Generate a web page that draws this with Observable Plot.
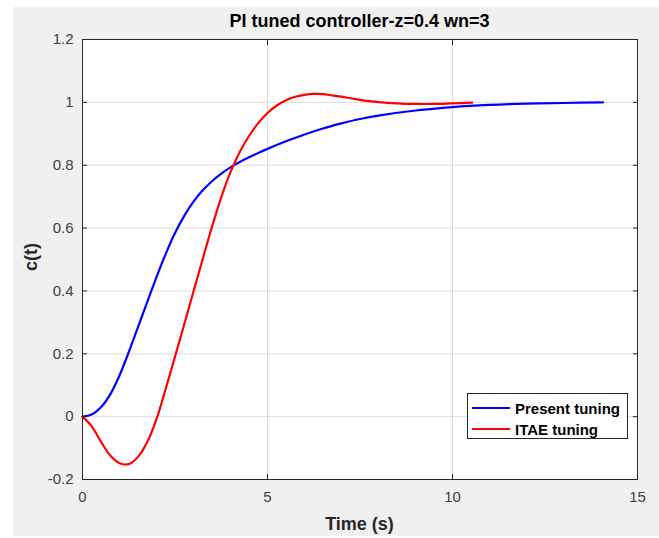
<!DOCTYPE html>
<html><head><meta charset="utf-8">
<script src="https://cdn.jsdelivr.net/npm/d3@7"></script>
<script src="https://cdn.jsdelivr.net/npm/@observablehq/plot@0.6"></script>
<style>
body{margin:0;background:#fff;font-family:"Liberation Sans",Arial,sans-serif}
#wrap{position:relative;width:659px;height:538px;background:#fff;overflow:hidden}
#bg{position:absolute;left:13px;top:7px;right:0;bottom:2px;background:#f0f0f0}
#chart{position:absolute;left:0;top:0}
#legend{position:absolute;left:467px;top:393px;width:159px;height:44px;background:#fff;border:1px solid #262626;box-sizing:content-box}
.row{position:absolute;left:0;height:20px;display:flex;align-items:center;font-weight:bold;font-size:15px;color:#000;white-space:nowrap}
.sw{width:38px;height:2px;margin-left:4px;margin-right:5px}
</style></head><body>
<div id="wrap"><div id="bg"></div><div id="chart"></div><div id="legend"></div></div>
<script>
const title = "PI tuned controller-z=0.4 wn=3";
const xLabel = "Time (s)";
const yLabel = "c(t)";
const seriesNames = ["Present tuning", "ITAE tuning"];
const seriesColors = ["#0000ff", "#ff0000"];
const xTicks = [0, 5, 10, 15];
const xTickLabels = ["0", "5", "10", "15"];
const yTicks = [-0.2, 0, 0.2, 0.4, 0.6, 0.8, 1, 1.2];
const yTickLabels = ["-0.2", "0", "0.2", "0.4", "0.6", "0.8", "1", "1.2"];

const presentT = [0, 0.25, 0.5, 0.75, 1.0, 1.25, 1.5, 1.75, 2.0, 2.25, 2.5, 2.75, 3.0, 3.25, 3.5, 3.75, 4.0, 4.25, 4.5, 4.75, 5.0, 5.5, 6.0, 6.5, 7.0, 7.5, 8.0, 9.0, 10.0, 11.0, 12.0, 13.0, 14.07];
const presentY = [0, 0.007, 0.03, 0.071, 0.131, 0.205, 0.285, 0.365, 0.444, 0.518, 0.584, 0.639, 0.684, 0.720, 0.749, 0.773, 0.793, 0.810, 0.825, 0.839, 0.852, 0.876, 0.898, 0.917, 0.933, 0.947, 0.958, 0.974, 0.985, 0.992, 0.996, 0.998, 1.0];
const itaeT = [0, 0.25, 0.5, 0.75, 1.0, 1.25, 1.5, 1.75, 2.0, 2.25, 2.5, 2.75, 3.0, 3.25, 3.5, 3.75, 4.0, 4.25, 4.5, 4.75, 5.0, 5.25, 5.5, 5.75, 6.0, 6.25, 6.5, 6.75, 7.0, 7.25, 7.5, 7.75, 8.0, 8.5, 9.0, 9.5, 10.0, 10.53];
const itaeY = [0, -0.031, -0.080, -0.124, -0.148, -0.151, -0.128, -0.081, -0.008, 0.089, 0.191, 0.294, 0.398, 0.502, 0.604, 0.698, 0.778, 0.842, 0.893, 0.934, 0.966, 0.990, 1.007, 1.018, 1.024, 1.027, 1.026, 1.022, 1.018, 1.013, 1.008, 1.004, 1.001, 0.997, 0.995, 0.995, 0.997, 0.999];

const data = [
  ...presentT.map((t, i) => ({t, y: presentY[i], s: seriesNames[0]})),
  ...itaeT.map((t, i) => ({t, y: itaeY[i], s: seriesNames[1]}))
];

const axisColor = "#262626";
const plot = Plot.plot({
  width: 659, height: 538,
  marginLeft: 82, marginRight: 22, marginTop: 39, marginBottom: 59,
  style: {background: "transparent", fontFamily: "'Liberation Sans', Arial, sans-serif", fontSize: "15px", color: "#404040"},
  x: {domain: [0, 15]},
  y: {domain: [-0.2, 1.2]},
  color: {domain: seriesNames, range: seriesColors},
  marks: [
    Plot.frame({fill: "white", stroke: null}),
    Plot.gridX(xTicks, {stroke: "#dcdcdc", strokeOpacity: 1}),
    Plot.gridY(yTicks, {stroke: "#dcdcdc", strokeOpacity: 1}),
    Plot.line(data, {x: "t", y: "y", z: "s", stroke: "s", strokeWidth: 2.2, curve: "catmull-rom"}),
    Plot.frame({stroke: axisColor, strokeWidth: 1}),
    Plot.axisX(xTicks, {anchor: "bottom", tickSize: 0, tickPadding: 12, tickFormat: (d, i) => xTickLabels[i], label: null, fill: "#404040"}),
    Plot.axisX(xTicks, {anchor: "bottom", tickSize: -5, tickFormat: () => "", label: null, stroke: axisColor}),
    Plot.axisX(xTicks, {anchor: "top", tickSize: -5, tickFormat: () => "", label: null, stroke: axisColor}),
    Plot.axisY(yTicks, {anchor: "left", tickSize: 0, tickPadding: 9, tickFormat: (d, i) => yTickLabels[i], label: null, fill: "#404040"}),
    Plot.axisY(yTicks, {anchor: "left", tickSize: -5, tickFormat: () => "", label: null, stroke: axisColor}),
    Plot.axisY(yTicks, {anchor: "right", tickSize: -5, tickFormat: () => "", label: null, stroke: axisColor})
  ]
});
document.getElementById("chart").appendChild(plot);

const svg = d3.select(plot);
const cx = (82 + 637) / 2;
svg.append("text").attr("x", cx).attr("y", 27).attr("text-anchor", "middle")
  .attr("font-weight", "bold").attr("font-size", 18).attr("fill", "#000").text(title);
svg.append("text").attr("x", cx).attr("y", 530).attr("text-anchor", "middle")
  .attr("font-weight", "bold").attr("font-size", 18).attr("fill", "#262626").text(xLabel);
svg.append("text").attr("transform", "translate(37,257) rotate(-90)").attr("text-anchor", "middle")
  .attr("font-weight", "bold").attr("font-size", 18).attr("fill", "#262626").text(yLabel);

const legend = document.getElementById("legend");
seriesNames.forEach((name, i) => {
  const row = document.createElement("div");
  row.className = "row";
  row.style.top = (4 + i * 21) + "px";
  const sw = document.createElement("div");
  sw.className = "sw";
  sw.style.background = seriesColors[i];
  const label = document.createElement("span");
  label.textContent = name;
  row.appendChild(sw); row.appendChild(label);
  legend.appendChild(row);
});
</script>
</body></html>
